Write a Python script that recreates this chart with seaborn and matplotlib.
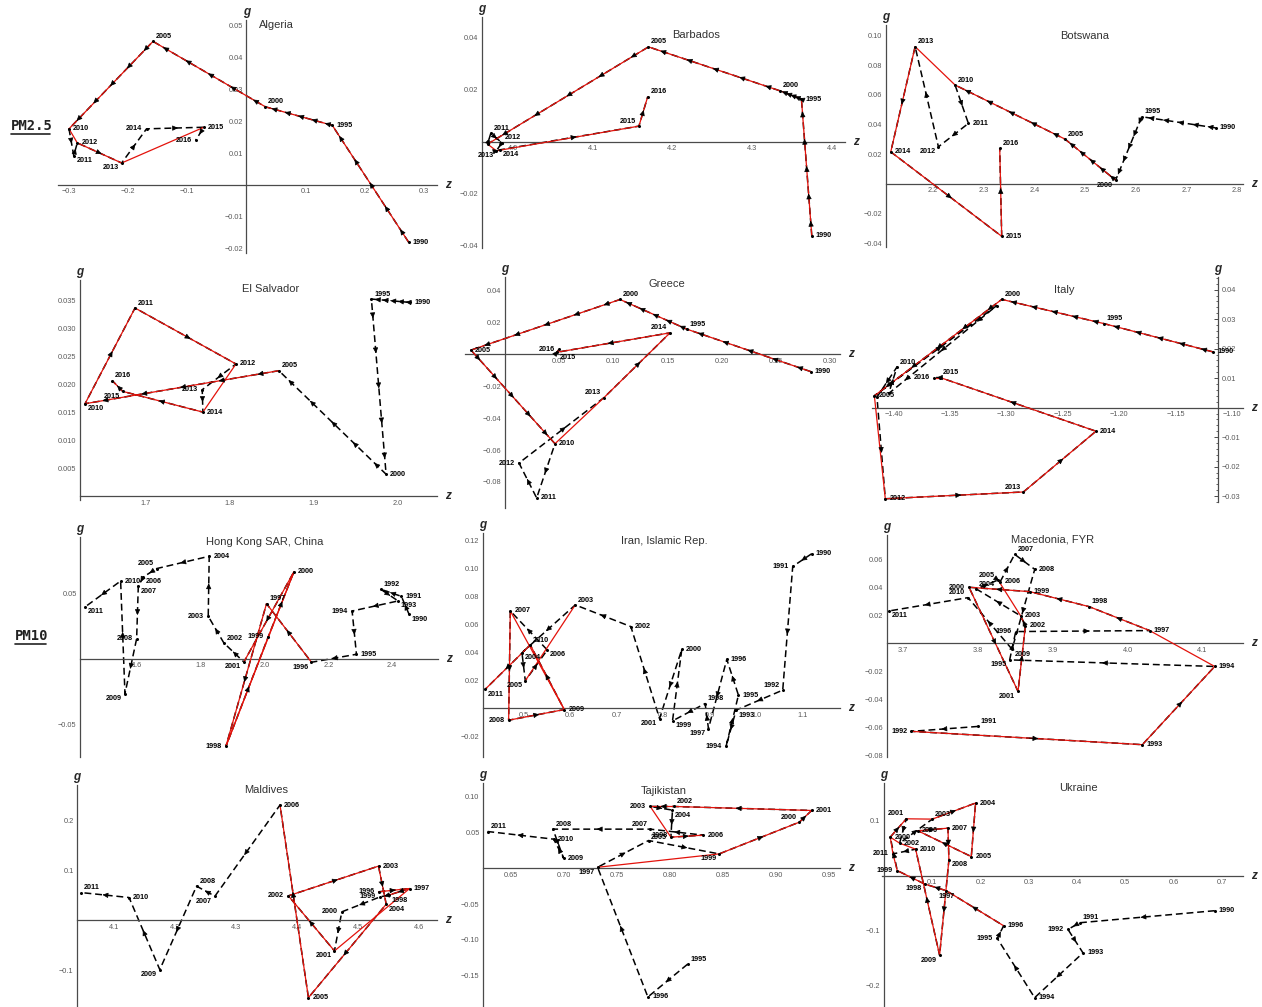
import numpy as np
import pandas as pd
import matplotlib
matplotlib.use("Agg")
import matplotlib.pyplot as plt
from matplotlib.ticker import MultipleLocator, FuncFormatter
from matplotlib.lines import Line2D
import seaborn as sns

sns.set_style("white")
plt.rcParams['font.family'] = ['Liberation Sans', 'DejaVu Sans']

W, H = 1262, 1007

# ------------------------------------------------------------------ data
ALG_YEARS = [1990, 1995, 2000, 2005, 2010, 2011, 2012, 2013, 2014, 2015, 2016]
ALG_Z = [0.274, 0.145, 0.032, -0.158, -0.300, -0.292, -0.286, -0.211, -0.169, -0.072, -0.086]
ALG_G = [-0.0179, 0.0187, 0.0245, 0.0450, 0.0176, 0.0092, 0.0132, 0.0069, 0.0176, 0.0181, 0.0140]
ALG_RED = [(1990, 1995), (1995, 2000), (2000, 2005), (2005, 2010), (2010, 2012), (2012, 2013), (2013, 2015)]
ALG_LAB = "r r ur ur r lr r ll l r l"

BRB_YEARS = [1990, 1995, 2000, 2005, 2010, 2011, 2012, 2013, 2014, 2015, 2016]
BRB_Z = [4.375, 4.362, 4.335, 4.170, 3.968, 3.972, 3.986, 3.979, 3.984, 4.158, 4.169]
BRB_G = [-0.0362, 0.0164, 0.0196, 0.0365, -0.0009, 0.0032, -0.0004, -0.0035, -0.0031, 0.0060, 0.0173]
BRB_RED = [(1990, 1995), (1995, 2000), (2000, 2005), (2005, 2010), (2010, 2013), (2013, 2015), (2015, 2016)]
BRB_LAB = "r r ur ur - ur ur ll lr ul ur"

BWA_YEARS = [1990, 1995, 2000, 2005, 2010, 2011, 2012, 2013, 2014, 2015, 2016]
BWA_Z = [2.758, 2.612, 2.5605, 2.4605, 2.2434, 2.2697, 2.2105, 2.1645, 2.1164, 2.3355, 2.3316]
BWA_G = [0.0378, 0.0453, 0.0025, 0.0302, 0.0667, 0.0408, 0.0250, 0.0926, 0.0216, -0.0354, 0.0239]
BWA_RED = [(2000, 2005), (2005, 2010), (2010, 2013), (2013, 2014), (2014, 2015), (2015, 2016)]
BWA_LAB = "r ur ll ur ur r ll ur r r ur"

SLV_YEARS = [1990, 1995, 2000, 2005, 2010, 2011, 2012, 2013, 2014, 2015, 2016]
SLV_Z = [2.0147, 1.969, 1.9865, 1.859, 1.6286, 1.688, 1.808, 1.7679, 1.7687, 1.6734, 1.6611]
SLV_G = [0.0346, 0.0352, 0.0039, 0.0224, 0.0165, 0.0336, 0.0236, 0.0190, 0.0150, 0.0187, 0.0206]
SLV_RED = [(2005, 2010), (2010, 2011), (2011, 2012), (2012, 2014), (2014, 2015), (2015, 2016)]
SLV_LAB = "r ur r ur lr ur r l r ll ur"

GRC_YEARS = [1990, 1995, 2000, 2005, 2010, 2011, 2012, 2013, 2014, 2015, 2016]
GRC_Z = [0.282, 0.1677, 0.1061, -0.0314, 0.0461, 0.0292, 0.0129, 0.0913, 0.1522, 0.0477, 0.0498]
GRC_G = [-0.0108, 0.0158, 0.0344, 0.0027, -0.0560, -0.0900, -0.0681, -0.0271, 0.0135, 0.0013, 0.0031]
GRC_RED = [(1990, 1995), (1995, 2000), (2000, 2005), (2005, 2010), (2010, 2013), (2013, 2014), (2014, 2015), (2015, 2016)]
GRC_LAB = "r ur ur r r r l ul ul lr l"

ITA_YEARS = [1990, 1995, 2000, 2005, 2006, 2009, 2010, 2011, 2012, 2013, 2014, 2015, 2016]
ITA_Z = [-1.1167, -1.2135, -1.3041, -1.4171, -1.3085, -1.4044, -1.3970, -1.4148, -1.4074, -1.2849, -1.2205, -1.3587, -1.3640]
ITA_G = [0.0189, 0.0285, 0.0367, 0.0040, 0.0346, 0.0048, 0.0138, 0.0036, -0.0309, -0.0286, -0.0080, 0.0102, 0.0102]
ITA_RED = [(1990, 1995), (1995, 2000), (2000, 2005), (2005, 2012), (2012, 2013), (2013, 2014), (2014, 2015), (2015, 2016)]
ITA_LAB = "r ur ur r - - ur - r ul r ur l"

HKG_YEARS = list(range(1990, 2012))
HKG_Z = [2.4533, 2.4292, 2.3645, 2.4188, 2.2747, 2.2883, 2.1473, 2.0063, 1.8789, 2.0115, 2.0919,
         1.9352, 1.8726, 1.8235, 1.8266, 1.6616, 1.6198, 1.6042, 1.5990, 1.5624, 1.5488, 1.4371]
HKG_G = [0.0341, 0.0478, 0.0532, 0.0443, 0.0366, 0.0036, -0.0025, 0.0422, -0.0667, 0.0168, 0.0664,
         -0.0023, 0.0122, 0.0326, 0.0784, 0.0690, 0.0626, 0.0555, 0.0155, -0.0265, 0.0595, 0.0397]
HKG_RED = [(1996, 1997), (1997, 1998), (1998, 1999), (1999, 2000), (2000, 2001), (1998, 2000)]
HKG_LAB = "lr r ur lr l r ll ur l l r ll ur l r ul lr lr l ll r lr"

IRN_YEARS = list(range(1990, 2012))
IRN_Z = [1.1192, 1.0784, 1.0569, 0.9567, 0.9352, 0.9617, 0.9367, 0.8973, 0.8901, 0.8200, 0.8400,
         0.7921, 0.7305, 0.6110, 0.4964, 0.5036, 0.5508, 0.4714, 0.4678, 0.5874, 0.5143, 0.4177]
IRN_G = [0.1104, 0.1013, 0.0129, -0.0014, -0.0272, 0.0093, 0.0349, -0.0146, 0.0033, -0.0091, 0.0421,
         -0.0074, 0.0583, 0.0738, 0.0397, 0.0196, 0.0416, 0.0695, -0.0086, -0.0010, 0.0452, 0.0136]
IRN_RED = [(2003, 2005), (2007, 2008), (2008, 2009), (2007, 2009), (2009, 2010), (2010, 2011)]
IRN_LAB = "r l ul lr l r r ll ur lr r ll r ur lr ll lr r l r ur lr"

MKD_YEARS = list(range(1991, 2012))
MKD_Z = [3.8002, 3.7111, 4.0198, 4.1165, 3.8425, 3.8506, 4.0296, 3.9486, 3.8693, 3.7882, 3.8537,
         3.8635, 3.8572, 3.7980, 3.8270, 3.8300, 3.8492, 3.8760, 3.8457, 3.7869, 3.6813]
MKD_G = [-0.0594, -0.0629, -0.0724, -0.0166, -0.0119, 0.0083, 0.0090, 0.0261, 0.0368, 0.0399, -0.0344,
         0.0124, 0.0195, 0.0387, 0.0451, 0.0440, 0.0634, 0.0527, -0.0043, 0.0325, 0.0230]
MKD_RED = [(1992, 1993), (1993, 1994), (1994, 1997), (1997, 1998), (1998, 1999), (1999, 2000),
           (2000, 2001), (2001, 2002), (2002, 2003), (2003, 2005)]
MKD_LAB = "ur l r r ll l r ur r l ll r r ur ul r ur r lr ul lr"

MDV_YEARS = list(range(1996, 2012))
MDV_Z = [4.5333, 4.5842, 4.5497, 4.5361, 4.4732, 4.4612, 4.3858, 4.5333, 4.5459, 4.4186, 4.3721,
         4.2656, 4.2355, 4.1754, 4.1251, 4.0459]
MDV_G = [0.0567, 0.0633, 0.0500, 0.0467, 0.0167, -0.0613, 0.0487, 0.1080, 0.0320, -0.1547, 0.2300,
         0.0480, 0.0680, -0.0987, 0.0453, 0.0553]
MDV_RED = [(1996, 1997), (1997, 1998), (1997, 2001), (2001, 2002), (2002, 2003), (2003, 2004),
           (2004, 2005), (2005, 2006)]
MDV_LAB = "l r lr l l ll l r lr r r ll ur ll r ur"

TJK_YEARS = list(range(1995, 2012))
TJK_Z = [0.8164, 0.7790, 0.7316, 0.7796, 0.8462, 0.9218, 0.9334, 0.8032, 0.7812, 0.8022, 0.8007,
         0.8314, 0.7812, 0.6895, 0.6996, 0.6902, 0.6280]
TJK_G = [-0.1341, -0.1799, 0.0014, 0.0388, 0.0201, 0.0645, 0.0808, 0.0864, 0.0864, 0.0813, 0.0435,
         0.0463, 0.0547, 0.0547, 0.0140, 0.0407, 0.0514]
TJK_RED = [(1997, 1999), (1999, 2000), (2000, 2001), (2001, 2002), (2002, 2003), (2003, 2005), (2005, 2006)]
TJK_LAB = "ur r ll ur ll ul r ur l lr l r ul ur r r ur"

UKR_YEARS = list(range(1990, 2012))
UKR_Z = [0.6856, 0.4057, 0.3815, 0.4126, 0.3124, 0.2350, 0.2481, 0.1292, 0.0843, 0.0276, 0.0131,
         0.0463, 0.0325, 0.1002, 0.1900, 0.1811, 0.0705, 0.1327, 0.1347, 0.1154, 0.0657, 0.0187]
UKR_G = [-0.0641, -0.0861, -0.0983, -0.1411, -0.2230, -0.1148, -0.0916, -0.0275, -0.0153, 0.0092, 0.0703,
         0.1038, 0.0593, 0.1032, 0.1326, 0.0348, 0.0819, 0.0867, 0.0287, -0.1454, 0.0483, 0.0397]
UKR_RED = [(1996, 1997), (1997, 1998), (1998, 1999), (1999, 2011), (2011, 2000), (2000, 2001), (2001, 2003),
           (2003, 2004), (2004, 2005), (2005, 2006), (2006, 2007), (2007, 2008), (2008, 2009),
           (2009, 2010), (2010, 2002), (2002, 2000)]
UKR_LAB = "r ur l r r l r b ll l r ul r ur r r r r lr ll r l"

# ------------------------------------------------------------------ layout / style
PANELS = [
    dict(name="Algeria", y=ALG_YEARS, z=ALG_Z, g=ALG_G, red=ALG_RED, lab=ALG_LAB,
         rect=(58, 20, 437, 253), xlim=(-0.3186, 0.322), ylim=(-0.0213, 0.0517),
         xt=(0.1, 0.02, "%.1f"), yt=(0.01, 0.002, "%.2f"), title=(276, 25)),
    dict(name="Barbados", y=BRB_YEARS, z=BRB_Z, g=BRB_G, red=BRB_RED, lab=BRB_LAB,
         rect=(482, 17, 845, 248), xlim=(3.961, 4.4167), ylim=(-0.0409, 0.048),
         xt=(0.1, 0.02, "%.1f"), yt=(0.02, 0.004, "%.2f"), title=(696, 35)),
    dict(name="Botswana", y=BWA_YEARS, z=BWA_Z, g=BWA_G, red=BWA_RED, lab=BWA_LAB,
         rect=(886, 25, 1243, 247), xlim=(2.107, 2.812), ylim=(-0.0426, 0.1072),
         xt=(0.1, 0.02, "%.1f"), yt=(0.02, 0.004, "%.2f"), title=(1085, 36)),
    dict(name="El Salvador", y=SLV_YEARS, z=SLV_Z, g=SLV_G, red=SLV_RED, lab=SLV_LAB,
         rect=(80, 280, 437, 500), xlim=(1.6226, 2.047), ylim=(-0.0007, 0.0386),
         xt=(0.1, 0.02, "%.1f"), yt=(0.005, 0.001, "%.3f"), title=(271, 289)),
    dict(name="Greece", y=GRC_YEARS, z=GRC_Z, g=GRC_G, red=GRC_RED, lab=GRC_LAB,
         rect=(465, 277, 840, 508), xlim=(-0.0369, 0.309), ylim=(-0.0963, 0.0485),
         xt=(0.05, 0.01, "%.2f"), yt=(0.02, 0.004, "%.2f"), title=(667, 284)),
    dict(name="Italy", y=ITA_YEARS, z=ITA_Z, g=ITA_G, red=ITA_RED, lab=ITA_LAB,
         rect=(872, 277, 1243, 502), xlim=(-1.4192, -1.0901), ylim=(-0.032, 0.0443),
         xt=(0.05, 0.01, "%.2f"), yt=(0.01, 0.002, "%.2f"), title=(1064, 290), yright=-1.1122),
    dict(name="Hong Kong SAR, China", y=HKG_YEARS, z=HKG_Z, g=HKG_G, red=HKG_RED, lab=HKG_LAB,
         rect=(80, 537, 438, 757), xlim=(1.4214, 2.544), ylim=(-0.0748, 0.0931),
         xt=(0.2, 0.05, "%.1f"), yt=(0.05, 0.01, "%.2f"), title=(265, 542)),
    dict(name="Iran, Islamic Rep.", y=IRN_YEARS, z=IRN_Z, g=IRN_G, red=IRN_RED, lab=IRN_LAB,
         rect=(483, 533, 840, 757), xlim=(0.4127, 1.18), ylim=(-0.0349, 0.1252),
         xt=(0.1, 0.02, "%.1f"), yt=(0.02, 0.004, "%.2f"), title=(664, 541)),
    dict(name="Macedonia, FYR", y=MKD_YEARS, z=MKD_Z, g=MKD_G, red=MKD_RED, lab=MKD_LAB,
         rect=(887, 535, 1243, 757), xlim=(3.6786, 4.1543), ylim=(-0.0812, 0.0772),
         xt=(0.1, 0.02, "%.1f"), yt=(0.02, 0.004, "%.2f"), title=(1053, 539)),
    dict(name="Maldives", y=MDV_YEARS, z=MDV_Z, g=MDV_G, red=MDV_RED, lab=MDV_LAB,
         rect=(77, 785, 437, 1007), xlim=(4.0399, 4.629), ylim=(-0.1733, 0.27),
         xt=(0.1, 0.02, "%.1f"), yt=(0.1, 0.02, "%.1f"), title=(266, 790)),
    dict(name="Tajikistan", y=TJK_YEARS, z=TJK_Z, g=TJK_G, red=TJK_RED, lab=TJK_LAB,
         rect=(483, 783, 840, 1007), xlim=(0.6236, 0.9601), ylim=(-0.1939, 0.1192),
         xt=(0.05, 0.01, "%.2f"), yt=(0.05, 0.01, "%.2f"), title=(664, 791)),
    dict(name="Ukraine", y=UKR_YEARS, z=UKR_Z, g=UKR_G, red=UKR_RED, lab=UKR_LAB,
         rect=(882, 783, 1243, 1007), xlim=(-0.004, 0.7443), ylim=(-0.24, 0.1692),
         xt=(0.1, 0.02, "%.1f"), yt=(0.1, 0.02, "%.1f"), title=(1078, 788)),
]

RED = "#e3120b"
AXC = "#4a4a4a"
TICKC = "#5a5a5a"
LABPOS = {
    "ur": (2, 1, "left", "bottom"), "r": (3, 0, "left", "center"), "lr": (2, -1, "left", "top"),
    "l": (-3, 0, "right", "center"), "ul": (-2, 1, "right", "bottom"), "ll": (-2, -1, "right", "top"),
    "b": (0, -2, "center", "top"), "u": (0, 2, "center", "bottom"),
}


def fmt_factory(f):
    def _f(v, p):
        if abs(v) < 1e-9:
            return ""
        return (f % v).replace("-", "\u2212")
    return FuncFormatter(_f)


fig = plt.figure(figsize=(W / 100, H / 100), dpi=100)

for P in PANELS:
    l, t, r, b = P["rect"]
    ax = fig.add_axes([l / W, 1 - b / H, (r - l) / W, (b - t) / H])
    ax.set_facecolor("none")
    ax.set_xlim(*P["xlim"])
    ax.set_ylim(*P["ylim"])

    df = pd.DataFrame({"year": P["y"], "z": P["z"], "g": P["g"]})
    pos = {yr: (zz, gg) for yr, zz, gg in zip(P["y"], P["z"], P["g"])}

    # black dashed annual trajectory
    sns.lineplot(data=df, x="z", y="g", sort=False, estimator=None, ax=ax,
                 color="black", lw=1.1, linestyle=(0, (4.5, 2.5)), zorder=2)

    # red trajectory segments
    rows = []
    for k, (a, c) in enumerate(P["red"]):
        for yr in (a, c):
            rows.append({"seg": k, "z": pos[yr][0], "g": pos[yr][1]})
    rdf = pd.DataFrame(rows)
    sns.lineplot(data=rdf, x="z", y="g", units="seg", estimator=None, sort=False, ax=ax,
                 color=RED, lw=0.9, zorder=3)

    # arrow heads along the black path
    for i in range(len(df) - 1):
        z0, g0 = df.z[i], df.g[i]
        z1, g1 = df.z[i + 1], df.g[i + 1]
        n = int(df.year[i + 1] - df.year[i])
        for k in range(n):
            tt = (k + 0.55) / n
            te = tt - 0.04 / n
            ax.annotate("", xy=(z0 + (z1 - z0) * tt, g0 + (g1 - g0) * tt),
                        xytext=(z0 + (z1 - z0) * te, g0 + (g1 - g0) * te),
                        arrowprops=dict(arrowstyle="-|>,head_length=0.75,head_width=0.35",
                                        color="black", lw=0.5, shrinkA=0, shrinkB=0,
                                        mutation_scale=4.5), zorder=4)

    # point dots + year labels
    codes = P["lab"].split()
    for (yr, zz, gg), code in zip(zip(P["y"], P["z"], P["g"]), codes):
        ax.plot([zz], [gg], marker="o", ms=1.2, color="black", zorder=5)
        if code == "-":
            continue
        dx, dy, ha, va = LABPOS[code]
        ax.annotate(str(yr), xy=(zz, gg), xytext=(dx, dy), textcoords="offset points",
                    ha=ha, va=va, fontsize=5.2, fontweight="bold", color="black", zorder=6,
                    annotation_clip=False)

    # Mathematica-like axes
    ax.spines["top"].set_visible(False)
    ax.spines["bottom"].set_position(("data", 0))
    if "yright" in P:
        ax.spines["left"].set_visible(False)
        ax.spines["right"].set_position(("data", P["yright"]))
        ax.yaxis.tick_right()
        yx = P["yright"]
    else:
        ax.spines["right"].set_visible(False)
        if P["xlim"][0] < 0 < P["xlim"][1]:
            ax.spines["left"].set_position(("data", 0))
            yx = 0.0
        else:
            yx = P["xlim"][0]
    for s in ("bottom", "left", "right"):
        ax.spines[s].set_color(AXC)
        ax.spines[s].set_linewidth(0.9)

    ax.xaxis.set_major_locator(MultipleLocator(P["xt"][0]))
    ax.xaxis.set_minor_locator(MultipleLocator(P["xt"][1]))
    ax.yaxis.set_major_locator(MultipleLocator(P["yt"][0]))
    ax.yaxis.set_minor_locator(MultipleLocator(P["yt"][1]))
    ax.xaxis.set_major_formatter(fmt_factory(P["xt"][2]))
    ax.yaxis.set_major_formatter(fmt_factory(P["yt"][2]))
    ax.tick_params(which="major", direction="in", length=3.2, width=0.7, color=AXC,
                   labelsize=5.3, labelcolor=TICKC, pad=2.5)
    ax.tick_params(which="minor", direction="in", length=1.8, width=0.6, color=AXC)
    ax.set_xlabel("")
    ax.set_ylabel("")

    ax.annotate("g", xy=(yx, 1), xycoords=("data", "axes fraction"), xytext=(0, 1.5),
                textcoords="offset points", ha="center", va="bottom", fontsize=8.5,
                fontweight="bold", fontstyle="italic", annotation_clip=False)
    ax.annotate("z", xy=(1, 0), xycoords=("axes fraction", "data"), xytext=(6, 0),
                textcoords="offset points", ha="left", va="center", fontsize=8.5,
                fontweight="bold", fontstyle="italic", annotation_clip=False)

    tx, ty = P["title"]
    fig.text(tx / W, 1 - ty / H, P["name"], ha="center", va="center", fontsize=8, color="#333333")

# row labels
for txt, (x, y, x2) in (("PM2.5", (11, 126, 50)), ("PM10", (15, 636, 46))):
    fig.text(x / W, 1 - y / H, txt, ha="left", va="center", fontsize=10, fontweight="bold",
             family="DejaVu Sans Mono", color="#222222")
    fig.add_artist(Line2D([x / W, x2 / W], [1 - (y + 8) / H, 1 - (y + 8) / H],
                          color="#222222", lw=1.2, transform=fig.transFigure))

fig.savefig("out.png", dpi=100)
